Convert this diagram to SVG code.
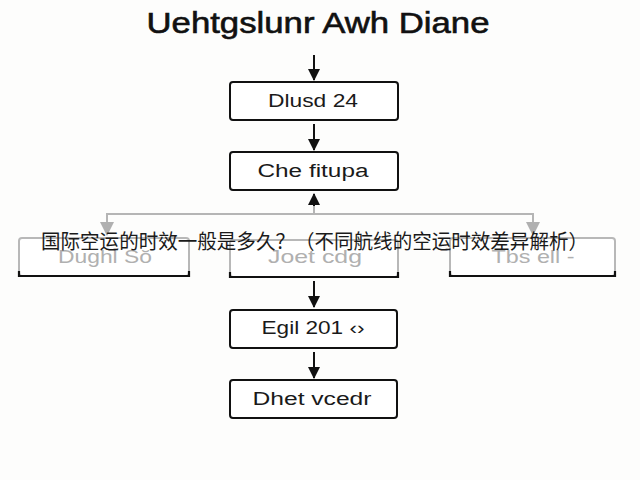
<svg xmlns="http://www.w3.org/2000/svg" width="640" height="480" viewBox="0 0 640 480">
<style>
.bg{fill:#fdfdfc}
.box{fill:#ffffff;stroke:#111;stroke-width:2}
.gbox{fill:#ffffff;stroke:#b8b8b8;stroke-width:2}
.gbot{fill:none;stroke:#111;stroke-width:2.2}
.t{font-family:"Liberation Sans",Arial,sans-serif;font-size:18px;fill:#1a1a1a;text-anchor:middle}
.gt{font-family:"Liberation Sans",Arial,sans-serif;font-size:19px;fill:#b0b0b0;text-anchor:middle}
.title{font-family:"Liberation Sans",Arial,sans-serif;font-size:29px;fill:#111;stroke:#111;stroke-width:0.6;text-anchor:middle}
.cn{font-family:"Noto Sans CJK SC","Noto Sans",sans-serif;font-size:20px;fill:#1a1a1a}
.ln{stroke:#111;stroke-width:2;fill:none}
.gl{stroke:#b5b5b5;stroke-width:2;fill:none}
</style>
<defs>
<marker id="ah" markerWidth="12" markerHeight="12" refX="11" refY="6" orient="auto" markerUnits="userSpaceOnUse">
<path d="M0,0 L12,6 L0,12 z" fill="#111"/>
</marker>
<marker id="gah" markerWidth="14" markerHeight="14" refX="13" refY="7" orient="auto" markerUnits="userSpaceOnUse">
<path d="M0,0 L14,7 L0,14 z" fill="#b0b0b0"/>
</marker>
</defs>
<rect class="bg" x="0" y="0" width="640" height="480"/>
<text class="title" x="318" y="33" textLength="343" lengthAdjust="spacingAndGlyphs">Uehtgslunr Awh Diane</text>
<g id="connectors">
<line class="ln" x1="314" y1="55" x2="314" y2="80" marker-end="url(#ah)"/>
<line class="ln" x1="314" y1="124" x2="314" y2="150" marker-end="url(#ah)"/>
<line class="gl" x1="314" y1="214" x2="314" y2="202"/>
<line class="ln" x1="314" y1="206" x2="314" y2="194" marker-end="url(#ah)"/>
<path class="gl" d="M107,226 L107,214 L533,214 L533,226"/>
<line class="gl" x1="107" y1="220" x2="107" y2="235" marker-end="url(#gah)"/>
<line class="gl" x1="533" y1="220" x2="533" y2="235" marker-end="url(#gah)"/>
<line class="ln" x1="314" y1="281" x2="314" y2="307" marker-end="url(#ah)"/>
<line class="ln" x1="314" y1="352" x2="314" y2="378" marker-end="url(#ah)"/>
</g>
<g id="node1">
<rect class="box" x="230" y="82" width="168" height="38" rx="3"/>
<text class="t" x="313" y="107" textLength="90" lengthAdjust="spacingAndGlyphs">Dlusd 24</text>
</g>
<g id="node2">
<rect class="box" x="230" y="152" width="168" height="38" rx="3"/>
<text class="t" x="313" y="177" textLength="111" lengthAdjust="spacingAndGlyphs">Che fitupa</text>
</g>
<g id="nodeA">
<rect class="gbox" x="19" y="238" width="170" height="38" rx="3"/>
<path class="gbot" d="M19,271 L19,276 L189,276 L189,271"/>
<text class="gt" x="105" y="263" textLength="94" lengthAdjust="spacingAndGlyphs">Dughl Sŏ</text>
</g>
<g id="nodeB">
<rect class="gbox" x="230" y="240" width="168" height="37" rx="3"/>
<path class="gbot" d="M230,272 L230,277 L398,277 L398,272"/>
<text class="gt" x="315" y="263" textLength="94" lengthAdjust="spacingAndGlyphs">Joet cdg</text>
</g>
<g id="nodeC">
<rect class="gbox" x="450" y="238" width="165" height="38" rx="3"/>
<path class="gbot" d="M450,271 L450,276 L615,276 L615,271"/>
<text class="gt" x="533" y="263" textLength="83" lengthAdjust="spacingAndGlyphs">Tbs ell -</text>
</g>
<g id="node4">
<rect class="box" x="230" y="310" width="167" height="38" rx="3"/>
<text class="t" x="313" y="334" textLength="103" lengthAdjust="spacingAndGlyphs">Egil 201 ‹›</text>
</g>
<g id="node5">
<rect class="box" x="230" y="380" width="167" height="38" rx="3"/>
<text class="t" x="312" y="405" textLength="119" lengthAdjust="spacingAndGlyphs">Dhet vcedr</text>
</g>
<text class="cn" x="41" y="249" textLength="547" lengthAdjust="spacingAndGlyphs">国际空运的时效一般是多久？（不同航线的空运时效差异解析）</text>
</svg>
